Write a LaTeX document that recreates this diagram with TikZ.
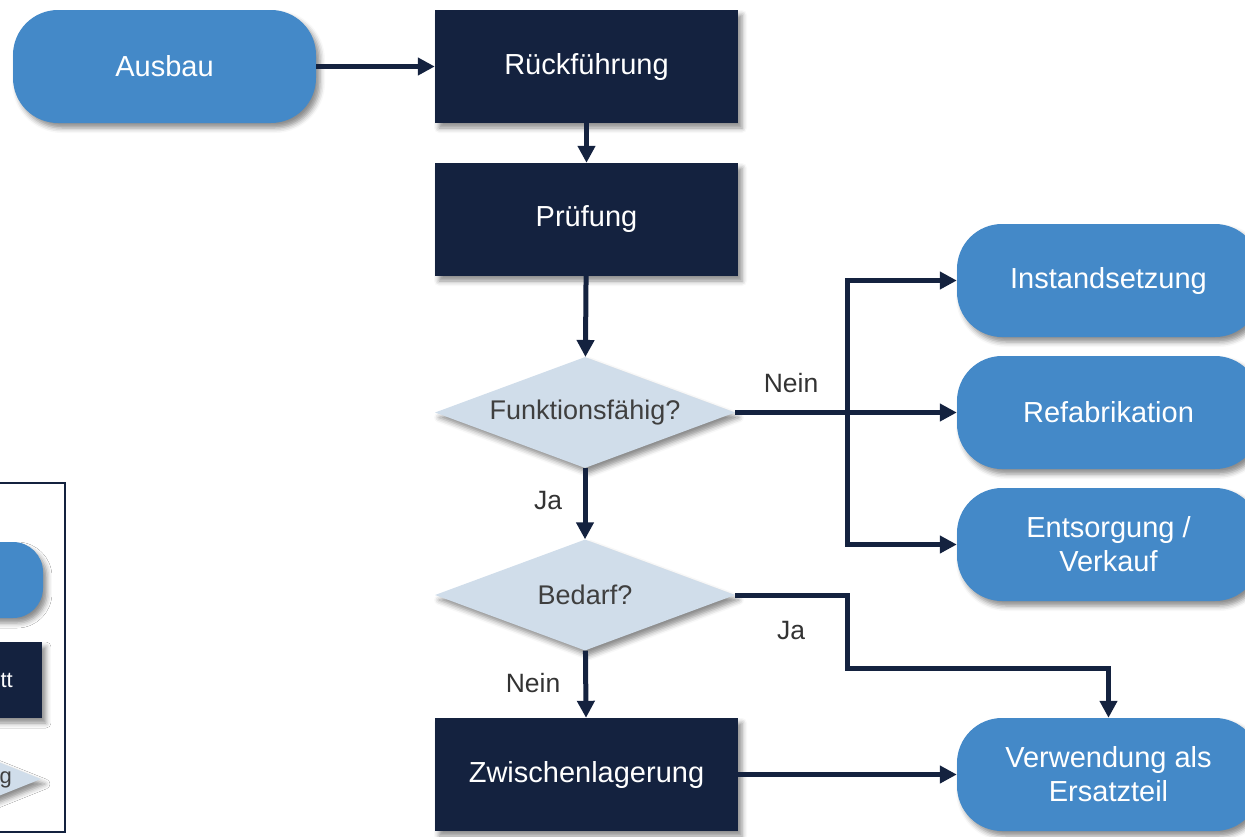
\documentclass[tikz,border=0pt]{standalone}
\usepackage{fontspec}
\setmainfont{Liberation Sans}
\usetikzlibrary{shapes.geometric,arrows.meta,shadows.blur}
\definecolor{cblue}{HTML}{4489C8}
\definecolor{cnavy}{HTML}{14223F}
\definecolor{clight}{HTML}{D0DDEA}
\definecolor{cgray}{HTML}{3F3F3F}
\definecolor{clab}{HTML}{333333}
\newcommand\boxfnt{\fontsize{29}{34}\selectfont}
\newcommand\decfnt{\fontsize{27}{31}\selectfont}
\newcommand\labfnt{\fontsize{26.5}{31}\selectfont}
\newcommand\legfnt{\fontsize{22}{25}\selectfont}
\begin{document}
\begin{tikzpicture}[x=1pt,y=-1pt,
  shad/.style={blur shadow={shadow xshift=4pt,shadow yshift=-5pt,shadow blur radius=5pt,shadow opacity=45}},
  term/.style={shad,rounded corners=45pt,fill=cblue,text=white,minimum width=303pt,minimum height=113pt,font=\boxfnt,align=center,inner sep=0pt},
  proc/.style={shad,fill=cnavy,text=white,minimum width=303pt,minimum height=113pt,font=\boxfnt,align=center,inner sep=0pt},
  dec/.style={shad,diamond,shape aspect=2.7,fill=clight,text=cgray,minimum width=300pt,minimum height=111pt,inner sep=0pt,font=\decfnt},
  conn/.style={draw=cnavy,line width=5pt,-{Triangle[length=17pt,width=17pt]}},
  lab/.style={text=clab,font=\labfnt,inner sep=0pt}]
\useasboundingbox (0,0) rectangle (1245,836);
\clip (0,0) rectangle (1245,836);
% legend (cut by the picture's left edge)
\node[draw=cnavy,line width=1.5pt,fill=white,minimum width=85pt,minimum height=349pt,inner sep=0pt] (legend) at (22.5,657.5) {};
\node[term,rounded corners=30pt,minimum width=150pt,minimum height=76pt] (lterm) at (-32,580) {};
\node[proc,minimum width=150pt,minimum height=76pt] (lproc) at (-33,680) {};
\node[dec,minimum width=200pt,minimum height=80pt,shape aspect=2.5] (ldec) at (-59,779) {};
\node[text=white,font=\legfnt,anchor=east,inner sep=0pt] (lproct) at (13,680) {tt};
\node[text=cgray,font=\legfnt,anchor=east,inner sep=0pt] (ldect) at (12,780) {g};
% main nodes
\node[term] (ausbau) at (164.5,66.5) {Ausbau};
\node[proc] (rueck) at (586.5,66.5) {Rückführung};
\node[proc] (pruef) at (586.5,219.5) {Prüfung};
\node[dec] (funk) at (585,412.5) {Funktionsfähig?};
\node[dec] (bedarf) at (585,595) {Bedarf?};
\node[proc] (zwisch) at (586.5,774.5) {Zwischenlagerung};
\node[term] (inst) at (1108.5,280.5) {Instandsetzung};
\node[term] (refab) at (1108.5,412.5) {Refabrikation};
\node[term] (ents) at (1108.5,544.5) {Entsorgung /\\Verkauf};
\node[term] (verw) at (1108.5,774.5) {Verwendung als\\Ersatzteil};
% connectors
\coordinate (br) at (847,412.5);
\coordinate (b1) at (847,668);
\draw[conn] (ausbau) -- (rueck);
\draw[conn] (rueck) -- (pruef);
\draw[conn] (pruef) -- (funk);
\draw[conn] (funk) -- (bedarf);
\draw[conn] (bedarf) -- (zwisch);
\draw[conn] (zwisch) -- (verw);
\draw[conn] (funk.east) -- (refab.west);
\draw[conn] (br) |- (inst.west);
\draw[conn] (br) |- (ents.west);
\draw[conn] (bedarf.east) -| (b1) -| (verw.north);
% labels
\node[lab] (lnein1) at (791,383) {Nein};
\node[lab] (lja1) at (548,501) {Ja};
\node[lab] (lja2) at (791,631) {Ja};
\node[lab] (lnein2) at (533,683) {Nein};
\end{tikzpicture}
\end{document}
